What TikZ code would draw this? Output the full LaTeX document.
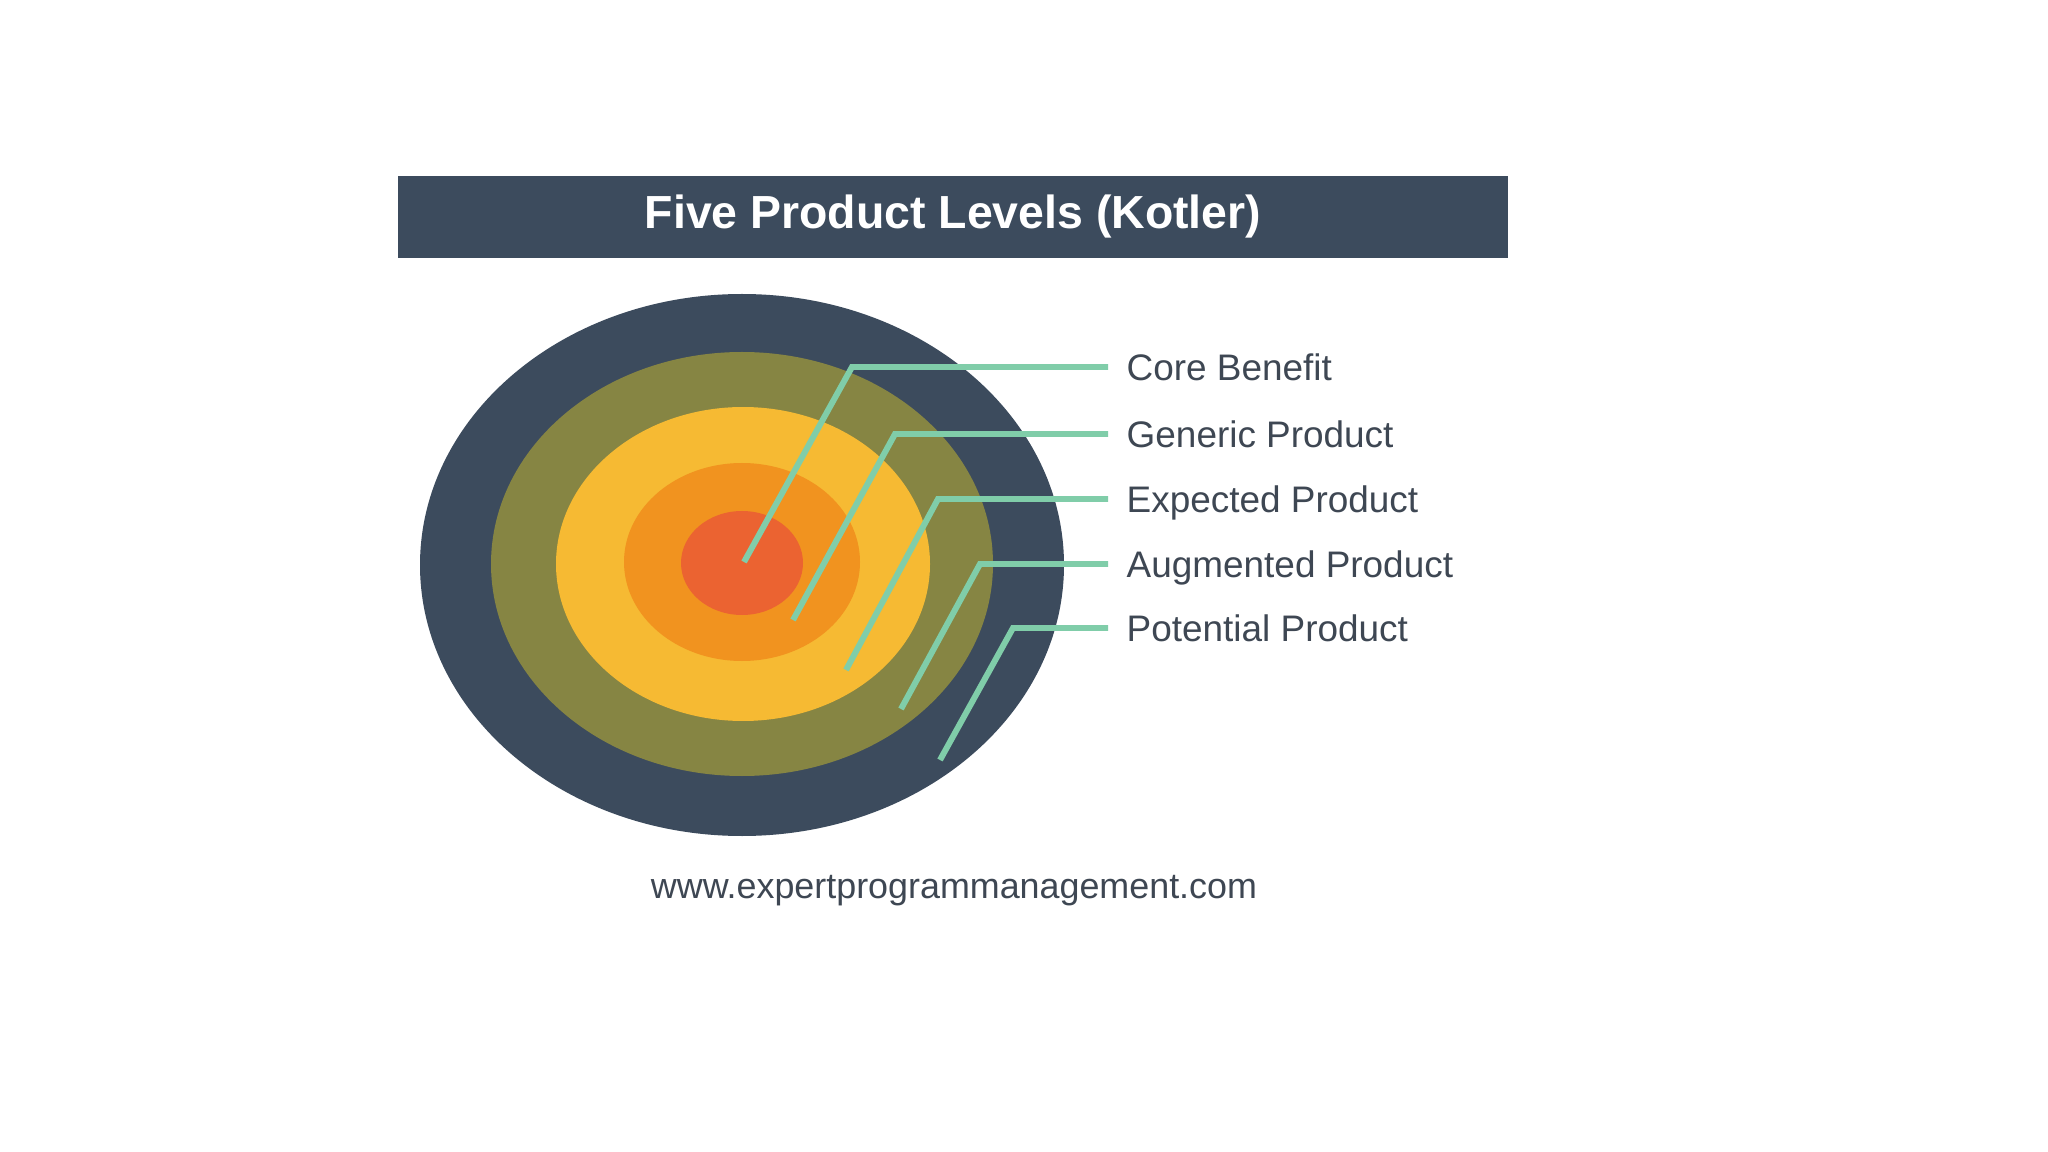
\documentclass[tikz,border=0pt]{standalone}
\usepackage{fontspec}
\setmainfont{Liberation Sans}
\definecolor{slate}{HTML}{3C4B5D}
\definecolor{olive}{HTML}{868543}
\definecolor{sun}{HTML}{F6BA33}
\definecolor{amber}{HTML}{F1931F}
\definecolor{flame}{HTML}{EB6331}
\definecolor{mint}{HTML}{80CDA9}
\definecolor{ink}{HTML}{3E4753}

\begin{document}
\begin{tikzpicture}[
  x=0.01cm, y=-0.01cm,
  bar/.style={fill=slate, minimum width=11.1cm, minimum height=0.81cm, inner sep=0pt, text=white, font=\bfseries\fontsize{13.2}{16}\selectfont},
  tag/.style={anchor=west, inner xsep=0.18cm, inner ysep=0pt, text height=0.26cm, text depth=0pt, text=ink, font=\fontsize{10.5}{12}\selectfont},
  foot/.style={text=ink, font=\fontsize{10.2}{12}\selectfont},
  leader/.style={draw=mint, line width=1.7pt}
]
\fill[white] (0,0) rectangle (2048,1152);
\useasboundingbox (0,0) rectangle (2048,1152);

% Title bar
\node[bar] (title) at (953,217) {Five Product Levels (Kotler)};

% Rings, outside in
\fill[slate] (742,565) ellipse [x radius=322, y radius=271];
\fill[olive] (742,564) ellipse [x radius=251, y radius=212];
\fill[sun]   (743,564) ellipse [x radius=187, y radius=157];
\fill[amber] (742,562) ellipse [x radius=118, y radius=99];
\fill[flame] (742,563) ellipse [x radius=61, y radius=52];

% Labels
\node[tag] (core) at (1108,367) {Core Benefit};
\node[tag] (generic) at (1108,434) {Generic Product};
\node[tag] (expected) at (1108,499) {Expected Product};
\node[tag] (augmented) at (1108,564) {Augmented Product};
\node[tag] (potential) at (1108,628) {Potential Product};

% Leader lines
\coordinate (core-tip) at (744,562);
\coordinate (core-bend) at (852,367);
\coordinate (generic-tip) at (793,620);
\coordinate (generic-bend) at (895,434);
\coordinate (expected-tip) at (846,670);
\coordinate (expected-bend) at (938,499);
\coordinate (augmented-tip) at (901,709);
\coordinate (augmented-bend) at (980,564);
\coordinate (potential-tip) at (940,760);
\coordinate (potential-bend) at (1013,628);

\draw[leader] (core-tip) -- (core-bend) -- (core.west);
\draw[leader] (generic-tip) -- (generic-bend) -- (generic.west);
\draw[leader] (expected-tip) -- (expected-bend) -- (expected.west);
\draw[leader] (augmented-tip) -- (augmented-bend) -- (augmented.west);
\draw[leader] (potential-tip) -- (potential-bend) -- (potential.west);

% Footer
\node[foot] (site) at (954,891) {www.expertprogrammanagement.com};

\end{tikzpicture}
\end{document}
